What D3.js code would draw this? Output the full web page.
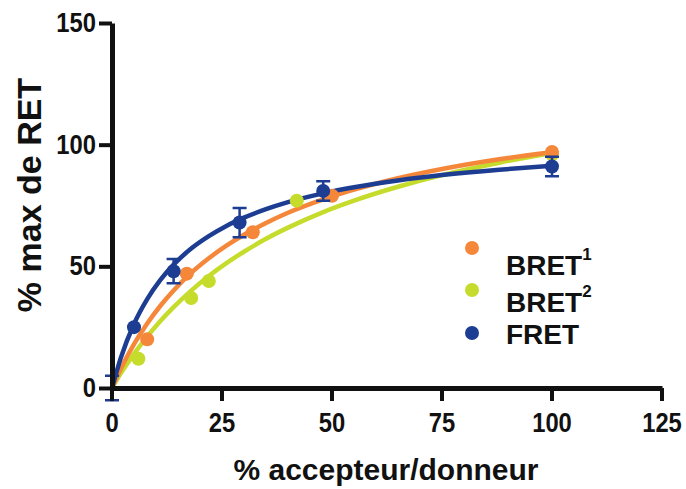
<!DOCTYPE html>
<html>
<head>
<meta charset="utf-8">
<script src="https://cdn.jsdelivr.net/npm/d3@7"></script>
<style>
  body { margin: 0; background: #fff; }
  svg text { font-family: "Liberation Sans", Arial, sans-serif; font-weight: bold; fill: #111; }
</style>
</head>
<body>
<svg id="chart" width="686" height="489"></svg>
<script>
// data
const xTicks = [0, 25, 50, 75, 100, 125];
const yTicks = [0, 50, 100, 150];

const fretX = [0, 5, 14, 29, 48, 100];
const fretY = [0, 25, 48, 68, 81, 91];
const fretErr = [5, 0, 5, 6, 4, 4];

const bret1X = [8, 17, 32, 50, 100];
const bret1Y = [20, 47, 64, 79, 97];

const bret2X = [6, 18, 22, 42, 100];
const bret2Y = [12, 37, 44, 77, 96];

// fitted curves
const curveX = [0, 2, 5, 8, 11, 14, 18, 22, 26, 30, 35, 40, 48, 55, 65, 75, 88, 100];
const fretFit = [0, 12.4, 26.3, 36.5, 44.4, 50.7, 57.3, 62.4, 66.6, 70, 73.5, 76.4, 80, 82.5, 85.3, 87.5, 89.7, 91.3];
const bret1Fit = [0, 7.9, 18, 26.5, 33.8, 40.1, 47.3, 53.3, 58.5, 63, 67.8, 72, 77.5, 81.5, 86.2, 90, 94, 96.9];
const bret2Fit = [0, 6, 14, 21.1, 27.5, 33.2, 40, 46, 51.3, 56, 61.3, 65.9, 72.3, 77, 82.7, 87.5, 92.6, 96.6];

const colors = {fret: "#1d3d92", bret1: "#f5873a", bret2: "#c6dc2c"};

const svg = d3.select("#chart");

// scales
const x = d3.scaleLinear().domain([0, 125]).range([112, 662]);
const y = d3.scaleLinear().domain([0, 150]).range([388, 23]);

const squeeze = 0.88;

// curves
const line = d3.line().x(d => x(d[0])).y(d => y(d[1])).curve(d3.curveMonotoneX);
const series = [
    {key: "bret2", xs: bret2X, ys: bret2Y, fit: bret2Fit},
    {key: "bret1", xs: bret1X, ys: bret1Y, fit: bret1Fit},
    {key: "fret", xs: fretX, ys: fretY, fit: fretFit, err: fretErr}
];

series.forEach(s => {
    svg.append("path")
        .datum(d3.zip(curveX, s.fit))
        .attr("d", line)
        .attr("fill", "none")
        .attr("stroke", colors[s.key])
        .attr("stroke-width", 4.5);
});

series.forEach(s => {
    const g = svg.append("g");
    const pts = d3.zip(s.xs, s.ys, s.err || s.xs.map(() => 0));
    // error bars
    g.selectAll("path.err")
        .data(pts.filter(d => d[2] > 0)).enter()
        .append("path")
        .attr("class", "err")
        .attr("d", d => {
            const cx = x(d[0]), y1 = y(d[1] + d[2]), y2 = y(d[1] - d[2]);
            return `M${cx - 7},${y1}H${cx + 7}M${cx},${y1}V${y2}M${cx - 7},${y2}H${cx + 7}`;
        })
        .attr("fill", "none")
        .attr("stroke", colors[s.key])
        .attr("stroke-width", 2.5);
    g.selectAll("circle")
        .data(pts.filter(d => d[0] > 0)).enter()
        .append("circle")
        .attr("cx", d => x(d[0]))
        .attr("cy", d => y(d[1]))
        .attr("r", 7)
        .attr("fill", colors[s.key]);
});

// axis_y
const axisY = svg.append("g")
    .attr("transform", `translate(${x(0)},0)`)
    .call(d3.axisLeft(y).tickValues(yTicks).tickSize(13).tickSizeOuter(0).tickPadding(3));
axisY.select(".domain").attr("stroke-width", 5).attr("stroke", "#111");
axisY.selectAll(".tick line").attr("stroke-width", 4).attr("stroke", "#111");
axisY.selectAll(".tick text")
    .style("font-size", "27px")
    .attr("x", -16 / squeeze)
    .attr("transform", `scale(${squeeze},1)`);

// axis_x
const axisX = svg.append("g")
    .attr("transform", `translate(0,${y(0)})`)
    .call(d3.axisBottom(x).tickValues(xTicks).tickSize(13).tickSizeOuter(0).tickPadding(12));
axisX.select(".domain").attr("stroke-width", 5).attr("stroke", "#111");
axisX.selectAll(".tick line").attr("stroke-width", 4).attr("stroke", "#111");
axisX.selectAll(".tick text")
    .style("font-size", "27px")
    .attr("transform", `scale(${squeeze},1)`);
axisX.selectAll(".tick")
    .attr("transform", d => `translate(${x(d)},0)`);

// axis titles
svg.append("text")
    .attr("x", 386).attr("y", 480)
    .attr("text-anchor", "middle")
    .style("font-size", "30px")
    .text("% accepteur/donneur");

svg.append("text")
    .attr("transform", "translate(41,195) rotate(-90)")
    .attr("text-anchor", "middle")
    .style("font-size", "34px")
    .text("% max de RET");

// legend
const legend = [
    {key: "bret1", label: "BRET", sup: "1", cy: 248, ty: 275},
    {key: "bret2", label: "BRET", sup: "2", cy: 290, ty: 312},
    {key: "fret", label: "FRET", sup: "", cy: 333, ty: 344}
];
const lg = svg.append("g");
legend.forEach(l => {
    lg.append("circle").attr("cx", 472).attr("cy", l.cy).attr("r", 7).attr("fill", colors[l.key]);
    const t = lg.append("text")
        .attr("x", 506).attr("y", l.ty)
        .style("font-size", "28px")
        .text(l.label);
    if (l.sup) {
        t.append("tspan")
            .attr("dy", -15)
            .style("font-size", "17px")
            .text(l.sup);
    }
});
</script>
</body>
</html>
